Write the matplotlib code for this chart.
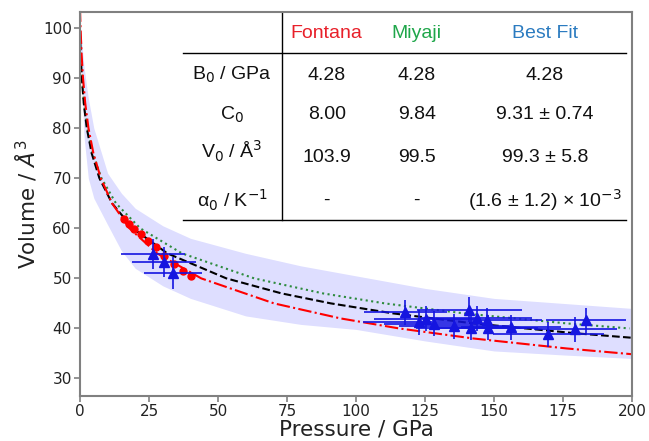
import numpy as np
import matplotlib.pyplot as plt

# EOS curves (pressure GPa, volume A^3)
fit_v = [99.3, 95, 90, 85, 80, 75, 70, 65, 60, 55, 50, 47, 45, 43, 41, 39, 38]
fit_p = [0, 0.23, 0.66, 1.35, 2.45, 4.21, 7.03, 11.6, 19.1, 31.6, 53.0, 73.0, 90.9, 113.5, 142.6, 180.2, 203.1]

miyaji_v = [99.5, 95, 90, 85, 80, 75, 70, 65, 60, 55, 50, 47, 45, 43, 41, 40]
miyaji_p = [0, 0.25, 0.70, 1.44, 2.64, 4.59, 7.78, 13.0, 21.8, 36.9, 63.1, 88.0, 110.4, 139.2, 176.4, 199.1]

fontana_v = [103.9, 100, 95, 90, 85, 80, 75, 70, 65, 60, 55, 50, 45, 42, 40, 38, 36, 35, 34.8]
fontana_p = [0, 0.19, 0.55, 1.08, 1.88, 3.06, 4.84, 7.53, 11.6, 17.9, 27.9, 43.9, 70.3, 94.4, 115.6, 142.4, 176.3, 196.9, 201.0]

# uncertainty band
band_p = [0, 1.5, 3, 5, 10, 15, 20, 30, 40, 60, 80, 100, 125, 150, 175, 200]
band_hi = [101, 92, 86, 80, 71, 67, 64, 60.5, 58, 55, 52.5, 50.5, 48, 46, 45, 44]
band_lo = [96, 78, 70, 66, 60.7, 55.5, 52, 48.5, 46, 42.5, 40.8, 39.8, 37.5, 35.5, 34.7, 34]

# Fontana points
dots_p = [16.1, 17.9, 19.7, 22.1, 24.5, 27.6, 30.6, 34.2, 37.2, 40.3]
dots_v = [61.8, 60.8, 59.9, 58.9, 57.5, 56.2, 54.5, 52.9, 51.5, 50.5]

# measurements
meas_p = [26.5, 30.5, 33.8, 117.9, 122.7, 125.5, 128.1, 135.5, 141.0, 141.8, 143.7, 147.4, 148.0, 156.1, 169.7, 179.5, 183.5]
meas_v = [54.9, 53.2, 51.1, 43.2, 41.2, 41.9, 40.9, 40.4, 43.7, 40.1, 42.0, 41.6, 40.1, 40.2, 38.8, 39.8, 41.6]
meas_perr = [11.5, 11.5, 10.5, 15, 20, 19, 18, 20, 19, 20, 20, 20, 18, 18, 20, 15, 14.5]
meas_verr = [3, 3, 3.2, 2.5, 2.5, 2.5, 2.5, 2.5, 2.5, 2.5, 2.5, 2.5, 2.5, 2.5, 2.5, 2.5, 2.5]

# table
col_names = ['Fontana', 'Miyaji', 'Best Fit']
col_colors = ['#e8202a', '#1fa64a', '#2b7bc0']
row_names = ['B$_0$ / GPa', 'C$_0$', 'V$_0$ / Å$^3$', 'α$_0$ / K$^{-1}$']
cells = [['4.28', '4.28', '4.28'],
         ['8.00', '9.84', '9.31 ± 0.74'],
         ['103.9', '99.5', '99.3 ± 5.8'],
         ['-', '-', '(1.6 ± 1.2) × 10$^{-3}$']]

fig = plt.figure(figsize=(6.49, 4.41), dpi=100)
ax = fig.add_axes([0.1233, 0.102, 0.8505, 0.8708])

ax.fill_between(band_p, band_lo, band_hi, color='blue', alpha=0.13, lw=0)
ax.plot(miyaji_p, miyaji_v, ':', color='#2e8b3e', lw=1.5)
ax.plot(fit_p, fit_v, '--', color='black', lw=1.5)
ax.plot(fontana_p, fontana_v, '-.', color='red', lw=1.5)
ax.plot(dots_p, dots_v, 'o', color='red', ms=5)
ax.errorbar(meas_p, meas_v, xerr=meas_perr, yerr=meas_verr, fmt='^', color='#1515e0',
            ms=7, elinewidth=1.2, capsize=0)

ax.set_xlim(0, 200)
ax.set_ylim(26.5, 103.2)
ax.set_xticks(range(0, 201, 25))
ax.set_yticks(range(30, 101, 10))
ax.set_xlabel('Pressure / GPa', fontsize=15.5, color='#222222', labelpad=0)
ax.set_ylabel('Volume / $Å^3$', fontsize=15.5, color='#222222', labelpad=3)
ax.tick_params(labelsize=11, colors='#808080', labelcolor='#222222', width=1.2, length=4, pad=2)
for s in ax.spines.values():
    s.set_color('#808080')
    s.set_linewidth(1.5)

# table drawn inside the axes
tf = dict(family='Liberation Sans', fontsize=14, ha='center', va='center', transform=ax.transAxes)
ax.plot([0.3665, 0.3665], [0.458, 1.0], color='black', lw=1, transform=ax.transAxes)
ax.plot([0.187, 0.99], [0.8924, 0.8924], color='black', lw=1, transform=ax.transAxes)
ax.plot([0.187, 0.99], [0.458, 0.458], color='black', lw=1, transform=ax.transAxes)
col_x = [0.4469, 0.61, 0.8424]
row_y = [0.8359, 0.7318, 0.622, 0.5104]
row_lab_y = [0.8359, 0.7318, 0.6362, 0.5104]
for name, c, x in zip(col_names, col_colors, col_x):
    ax.text(x, 0.9453, name, color=c, **tf)
for i, lab in enumerate(row_names):
    ax.text(0.2754, row_lab_y[i], lab, color='#111111', **tf)
    for j, val in enumerate(cells[i]):
        ax.text(col_x[j], row_y[i], val, color='#111111', **tf)

fig.savefig('out.png', dpi=100)
